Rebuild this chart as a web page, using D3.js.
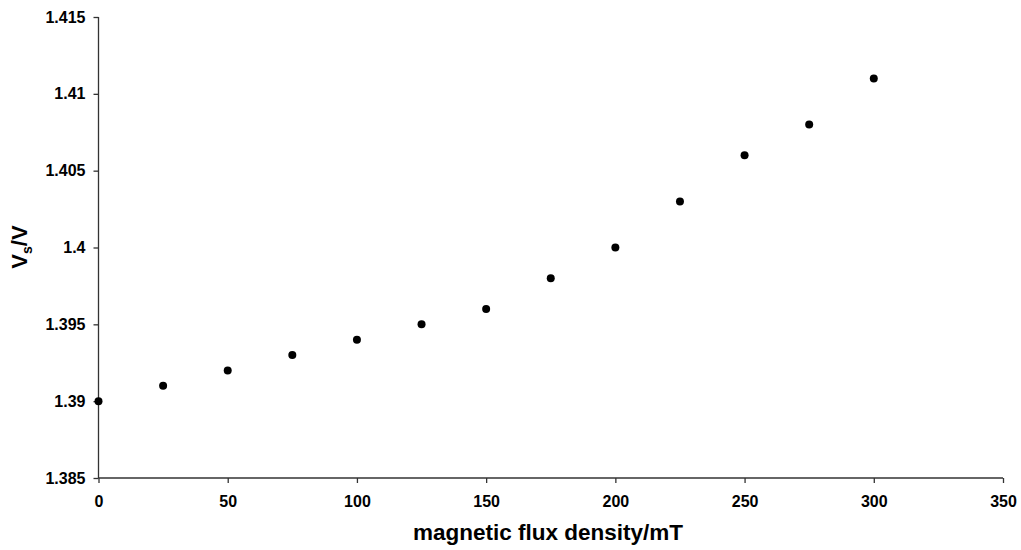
<!DOCTYPE html>
<html>
<head>
<meta charset="utf-8">
<script src="https://cdn.jsdelivr.net/npm/d3@7"></script>
<style>
  body { margin: 0; background: #fff; }
  svg { font-family: Arial, "Liberation Sans", sans-serif; }
</style>
</head>
<body>
<div id="chart"></div>
<script>
// readings taken off the chart
var flux = [0, 25, 50, 75, 100, 125, 150, 175, 200, 225, 250, 275, 300];
var ratio = [1.39, 1.391, 1.392, 1.393, 1.394, 1.395, 1.396, 1.398, 1.4, 1.403, 1.406, 1.408, 1.411];
var xTicks = [0, 50, 100, 150, 200, 250, 300, 350];
var yTicks = [1.385, 1.39, 1.395, 1.4, 1.405, 1.41, 1.415];

var width = 1021, height = 550;
var margin = {top: 17, right: 18, bottom: 72, left: 98.5};

var svg = d3.select("#chart").append("svg")
    .attr("width", width)
    .attr("height", height);

var x = d3.scaleLinear()
    .domain([0, 350])
    .range([margin.left, width - margin.right]);

var y = d3.scaleLinear()
    .domain([1.385, 1.415])
    .range([height - margin.bottom, margin.top]);

var xAxis = d3.axisBottom(x)
    .tickValues(xTicks)
    .tickSize(5)
    .tickPadding(13)
    .tickFormat(d3.format("d"));

var yAxis = d3.axisLeft(y)
    .tickValues(yTicks)
    .tickSize(5)
    .tickPadding(8)
    .tickFormat(function(d) { return String(+d.toFixed(3)); });

function styleAxis(g) {
    g.select(".domain").attr("stroke", "#333").attr("stroke-width", 1.3);
    g.selectAll(".tick line").attr("stroke", "#333").attr("stroke-width", 1.3);
    g.selectAll(".tick text")
        .attr("fill", "#000")
        .style("font-size", "16px")
        .style("font-weight", "bold");
}

svg.append("g")
    .attr("transform", "translate(0," + y(1.385) + ")")
    .call(xAxis)
    .call(styleAxis)
    .call(function(g) { g.select(".domain").attr("d", "M" + x(0) + ",0H" + x(350)); });

svg.append("g")
    .attr("transform", "translate(" + x(0) + ",0)")
    .call(yAxis)
    .call(styleAxis)
    .call(function(g) { g.select(".domain").attr("d", "M0," + y(1.385) + "V" + y(1.415)); });

// points
svg.append("g")
    .selectAll("circle")
    .data(flux)
    .enter().append("circle")
    .attr("cx", function(d) { return x(d); })
    .attr("cy", function(d, i) { return y(ratio[i]); })
    .attr("r", 4)
    .attr("fill", "#000");

// axis titles
svg.append("text")
    .attr("x", 548)
    .attr("y", 540)
    .attr("text-anchor", "middle")
    .style("font-size", "22.5px")
    .style("font-weight", "bold")
    .text("magnetic flux density/mT");

var yt = svg.append("text")
    .attr("transform", "translate(27,247) rotate(-90)")
    .attr("text-anchor", "middle")
    .style("font-size", "22px")
    .style("font-weight", "bold");
yt.append("tspan").text("V");
yt.append("tspan").attr("dy", 5).style("font-size", "14px").text("s");
yt.append("tspan").attr("dy", -5).text("/V");
</script>
</body>
</html>
